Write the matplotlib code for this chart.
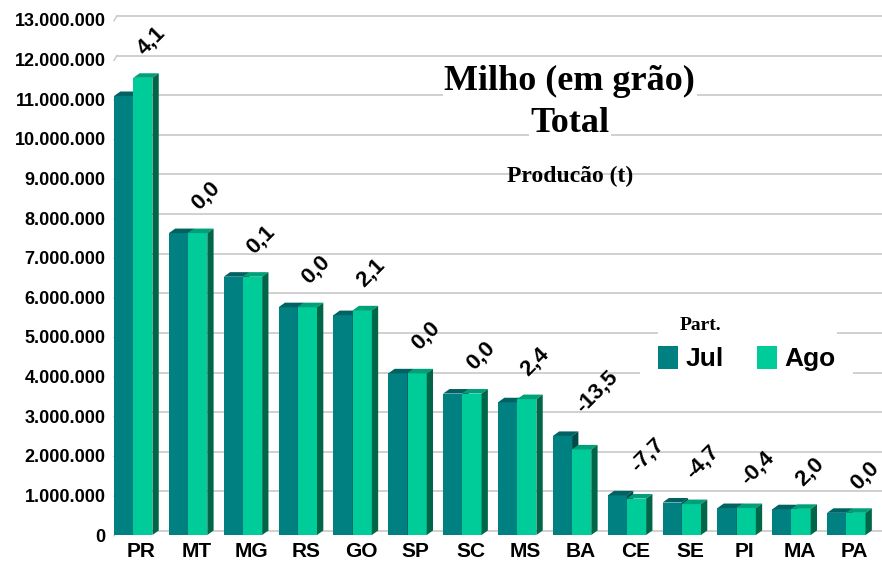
import matplotlib.pyplot as plt
from matplotlib.patches import Polygon, Patch, Rectangle
from matplotlib.ticker import FuncFormatter
from matplotlib.font_manager import FontProperties
import matplotlib.transforms as mtransforms

estados = ["PR", "MT", "MG", "RS", "GO", "SP", "SC", "MS", "BA", "CE", "SE", "PI", "MA", "PA"]
jul = [11080000, 7620000, 6520000, 5750000, 5550000, 4080000, 3570000, 3350000,
       2500000, 1000000, 820000, 680000, 650000, 560000]
ago = [11540000, 7620000, 6520000, 5750000, 5670000, 4080000, 3570000, 3430000,
       2160000, 920000, 780000, 680000, 660000, 560000]
variacao = ["4,1", "0,0", "0,1", "0,0", "2,1", "0,0", "0,0", "2,4",
            "-13,5", "-7,7", "-4,7", "-0,4", "2,0", "0,0"]
yticks = list(range(0, 13000001, 1000000))

c_jul = "#008080"
c_jul_top = "#006262"
c_jul_side = "#004a4a"
c_ago = "#00cc99"
c_ago_top = "#00a078"
c_ago_side = "#006648"

sans_b = FontProperties(family="Liberation Sans", weight="bold")

fig = plt.figure(figsize=(8.82, 5.63), dpi=100)
ax = fig.add_axes([0.1293, 0.0497, 0.8707, 0.9148])
ax.set_xlim(-0.5, 13.5)
ax.set_ylim(0, 13000000)

w = 0.35
dx = 0.115
dy = 115000

# gridlines on the back wall, a bit higher than the labels
off = mtransforms.ScaledTranslation(0, 4 / 100, fig.dpi_scale_trans)
for v in yticks:
    ax.plot([-0.45, 13.5], [v, v], color="#c8c8c8", lw=1.2,
            transform=ax.transData + off, zorder=0, clip_on=False)
    ax.plot([-0.5, -0.45], [v - 20000, v + 100000], color="#c8c8c8", lw=1.0,
            zorder=0, clip_on=False)


def bar3d(x0, h, front, top, side):
    ax.add_patch(Polygon([(x0, 0), (x0 + w, 0), (x0 + w, h), (x0, h)],
                         closed=True, fc=front, ec="none", zorder=2))
    ax.add_patch(Polygon([(x0, h), (x0 + w, h), (x0 + w + dx, h + dy), (x0 + dx, h + dy)],
                         closed=True, fc=top, ec="none", zorder=2))
    ax.add_patch(Polygon([(x0 + w, 0), (x0 + w + dx, dy), (x0 + w + dx, h + dy), (x0 + w, h)],
                         closed=True, fc=side, ec="none", zorder=2))


for i in range(len(estados)):
    bar3d(i - 0.5, jul[i], c_jul, c_jul_top, c_jul_side)
    bar3d(i - 0.5 + w, ago[i], c_ago, c_ago_top, c_ago_side)
    ax.annotate(variacao[i], (i + 0.05, max(jul[i], ago[i]) + dy), xytext=(0, 13),
                textcoords="offset points", rotation=45, rotation_mode="anchor",
                ha="left", va="baseline", fontproperties=sans_b, fontsize=16, zorder=5)

for s in ax.spines.values():
    s.set_visible(False)
ax.set_yticks(yticks)
ax.yaxis.set_major_formatter(FuncFormatter(lambda v, p: f"{int(v):,}".replace(",", ".")))
ax.set_xticks(range(len(estados)))
ax.set_xticklabels(estados)
ax.tick_params(axis="y", length=0, pad=6)
ax.tick_params(axis="x", length=0, pad=5)
for lab in ax.get_yticklabels():
    lab.set_fontproperties(sans_b)
    lab.set_fontsize(13)
for lab in ax.get_xticklabels():
    lab.set_fontproperties(sans_b)
    lab.set_fontsize(15)

box = dict(fc="white", ec="none", pad=1)
fig.text(0.646, 0.856, "Milho (em grão)", ha="center", va="center", fontsize=26,
         fontweight="bold", family="Liberation Serif", bbox=box, zorder=6)
fig.text(0.646, 0.781, "Total", ha="center", va="center", fontsize=26,
         fontweight="bold", family="Liberation Serif", bbox=box, zorder=6)
fig.text(0.646, 0.687, "Producão (t)", ha="center", va="center", fontsize=17,
         fontweight="bold", family="Liberation Serif", zorder=6)

# white patches behind the legend block
fig.patches.append(Rectangle((658 / 882, 1 - 340 / 563), 179 / 882, 24 / 563,
                             transform=fig.transFigure, fc="white", ec="none", zorder=3))
fig.patches.append(Rectangle((640 / 882, 1 - 378 / 563), 213 / 882, 38 / 563,
                             transform=fig.transFigure, fc="white", ec="none", zorder=3))
fig.text(700 / 882, 1 - 325 / 563, "Part.", ha="center", va="center", fontsize=14,
         fontweight="bold", family="Liberation Serif", zorder=6)

handles = [Patch(fc=c_jul, ec="none", label="Jul"), Patch(fc=c_ago, ec="none", label="Ago")]
leg = fig.legend(handles=handles, ncol=2, loc="center", bbox_to_anchor=(0.847, 0.363),
                 frameon=False, prop=dict(family="Liberation Sans", weight="bold", size=19),
                 handlelength=0.75, handleheight=0.95, handletextpad=0.3, columnspacing=1.25,
                 borderpad=0.2)
leg.set_zorder(7)

fig.savefig("out.png", dpi=100)
